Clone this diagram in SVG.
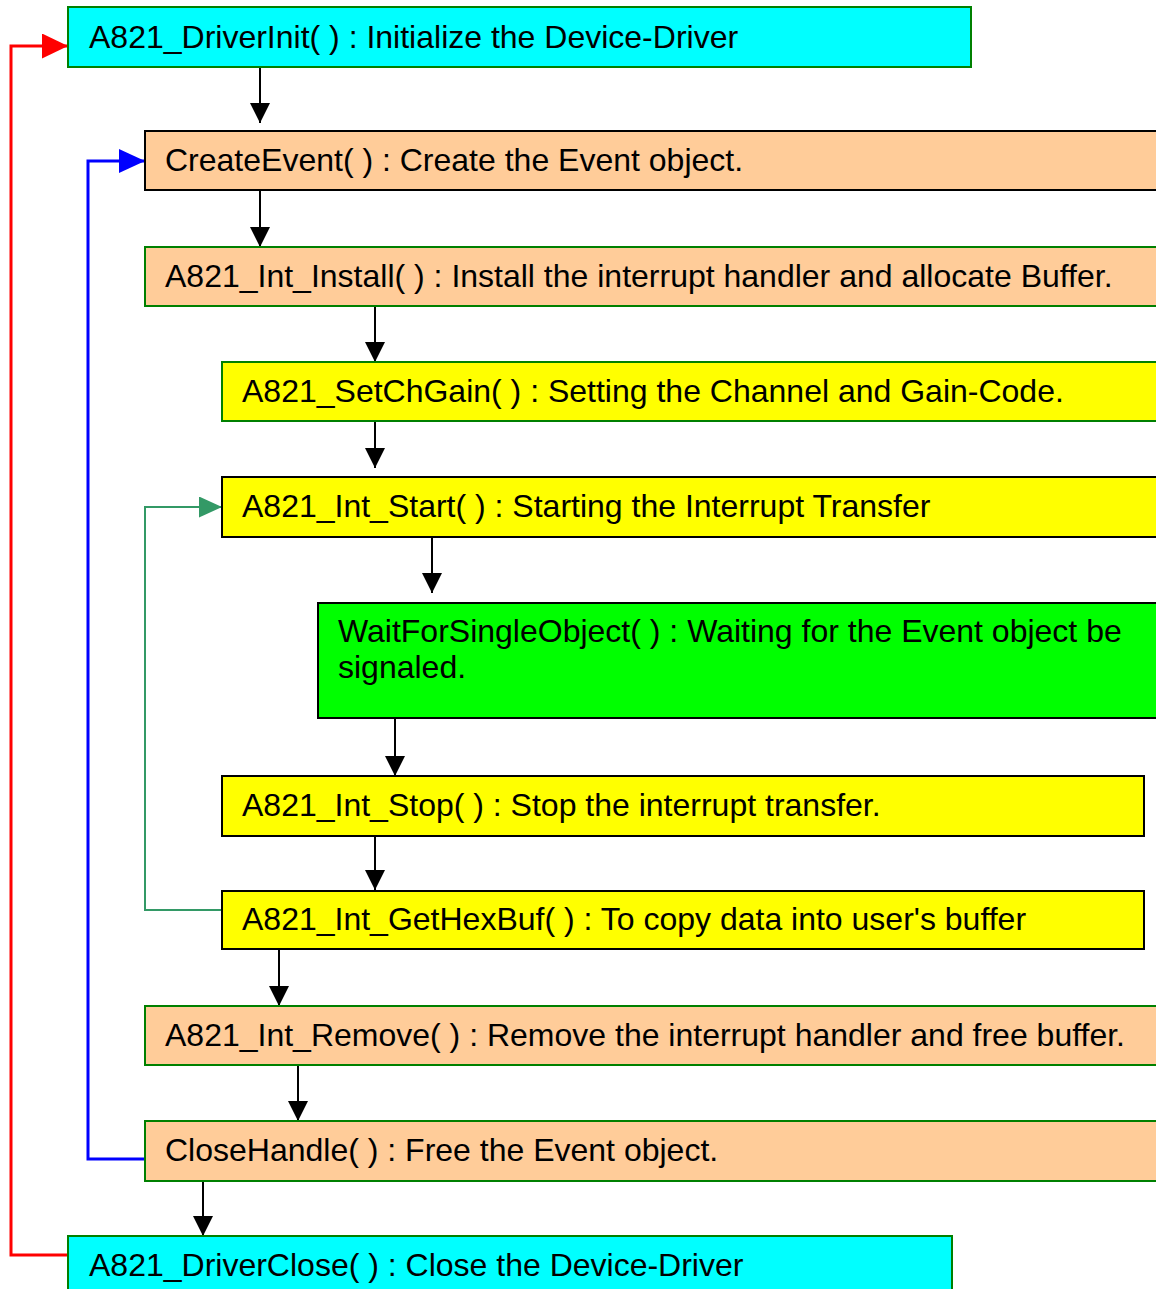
<svg xmlns="http://www.w3.org/2000/svg" width="1156" height="1289" viewBox="0 0 1156 1289">
<style>
.t{font-family:"Liberation Sans",Arial,sans-serif;font-size:32px;fill:#000}
.cy{fill:#00FFFF}.or{fill:#FFCC99}.ye{fill:#FFFF00}.gr{fill:#00FF00}
.sg{stroke:#008000;stroke-width:2}.sb{stroke:#000;stroke-width:2}
.c{fill:none;stroke:#000;stroke-width:2}
</style>
<defs>
<marker id="ab" viewBox="0 0 20 20" markerWidth="20" markerHeight="20" refX="20" refY="10" orient="auto" markerUnits="userSpaceOnUse"><path d="M0,0 L20,10 L0,20 z" fill="#000"/></marker>
<marker id="ar" viewBox="0 0 26 25" markerWidth="26" markerHeight="25" refX="26" refY="12.5" orient="auto" markerUnits="userSpaceOnUse"><path d="M0,0 L26,12.5 L0,25 z" fill="#FF0000"/></marker>
<marker id="au" viewBox="0 0 26 24" markerWidth="26" markerHeight="24" refX="26" refY="12" orient="auto" markerUnits="userSpaceOnUse"><path d="M0,0 L26,12 L0,24 z" fill="#0000FF"/></marker>
<marker id="ag" viewBox="0 0 23 21" markerWidth="23" markerHeight="21" refX="23" refY="10.5" orient="auto" markerUnits="userSpaceOnUse"><path d="M0,0 L23,10.5 L0,21 z" fill="#339966"/></marker>
</defs>
<rect width="1156" height="1289" fill="#fff"/>
<g id="connectors">
<path class="c" d="M260,67 V123" marker-end="url(#ab)"/>
<path class="c" d="M260,190 V247" marker-end="url(#ab)"/>
<path class="c" d="M375,306 V362" marker-end="url(#ab)"/>
<path class="c" d="M375,421 V468" marker-end="url(#ab)"/>
<path class="c" d="M432,537 V593" marker-end="url(#ab)"/>
<path class="c" d="M395,718 V776" marker-end="url(#ab)"/>
<path class="c" d="M375,836 V890" marker-end="url(#ab)"/>
<path class="c" d="M279,950 V1006" marker-end="url(#ab)"/>
<path class="c" d="M298,1065 V1121" marker-end="url(#ab)"/>
<path class="c" d="M203,1181 V1236" marker-end="url(#ab)"/>
<path d="M68,1255 H11 V46 H68" fill="none" stroke="#FF0000" stroke-width="3" marker-end="url(#ar)"/>
<path d="M145,1159 H88 V161 H145" fill="none" stroke="#0000FF" stroke-width="3" marker-end="url(#au)"/>
<path d="M222,910 H145 V507 H222" fill="none" stroke="#339966" stroke-width="2" marker-end="url(#ag)"/>
</g>
<g id="n1"><rect class="cy sg" x="68" y="7" width="903" height="60"/><text class="t" x="89" y="48">A821_DriverInit( ) : Initialize the Device-Driver</text></g>
<g id="n2"><rect class="or sb" x="145" y="131" width="1015" height="59"/><text class="t" x="165" y="171">CreateEvent( ) : Create the Event object.</text></g>
<g id="n3"><rect class="or sg" x="145" y="247" width="1015" height="59"/><text class="t" x="165" y="287">A821_Int_Install( ) : Install the interrupt handler and allocate Buffer.</text></g>
<g id="n4"><rect class="ye sg" x="222" y="362" width="938" height="59"/><text class="t" x="242" y="402">A821_SetChGain( ) : Setting the Channel and Gain-Code.</text></g>
<g id="n5"><rect class="ye sb" x="222" y="477" width="938" height="60"/><text class="t" x="242" y="517">A821_Int_Start( ) : Starting the Interrupt Transfer</text></g>
<g id="n6"><rect class="gr sb" x="318" y="603" width="842" height="115"/><text class="t" x="338" y="642">WaitForSingleObject( ) : Waiting for the Event object be</text><text class="t" x="338" y="678">signaled.</text></g>
<g id="n7"><rect class="ye sb" x="222" y="776" width="922" height="60"/><text class="t" x="242" y="816">A821_Int_Stop( ) : Stop the interrupt transfer.</text></g>
<g id="n8"><rect class="ye sb" x="222" y="891" width="922" height="58"/><text class="t" x="242" y="930">A821_Int_GetHexBuf( ) : To copy data into user's buffer</text></g>
<g id="n9"><rect class="or sg" x="145" y="1006" width="1015" height="59"/><text class="t" x="165" y="1046">A821_Int_Remove( ) : Remove the interrupt handler and free buffer.</text></g>
<g id="n10"><rect class="or sg" x="145" y="1121" width="1015" height="60"/><text class="t" x="165" y="1161">CloseHandle( ) : Free the Event object.</text></g>
<g id="n11"><rect class="cy sg" x="68" y="1236" width="884" height="60"/><text class="t" x="89" y="1276">A821_DriverClose( ) : Close the Device-Driver</text></g>
</svg>
